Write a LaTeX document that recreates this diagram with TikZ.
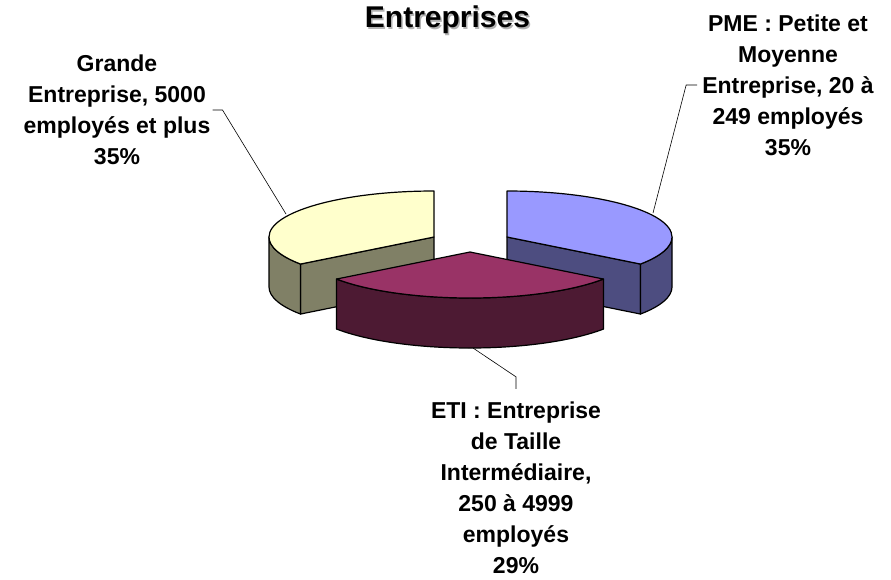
\documentclass[tikz,border=0pt]{standalone}
\usepackage{fontspec}
\setmainfont{Liberation Sans}
\usepackage{tikz}
\tikzset{>=latex}
\usetikzlibrary{calc,positioning}

\definecolor{ytop}{HTML}{FFFFCC}
\definecolor{yside}{HTML}{808066}
\definecolor{ptop}{HTML}{9999FF}
\definecolor{pside}{HTML}{4D4D80}
\definecolor{mtop}{HTML}{993366}
\definecolor{mside}{HTML}{4D1A33}

\tikzset{
  face/.style={draw=black, line width=1.2pt, line join=round},
  ell/.style={x radius=165, y radius=46},
  lab/.style={align=center, inner sep=0pt, font=\bfseries\fontsize{23}{31}\selectfont},
  leader/.style={draw=black, line width=0.6pt}
}

\begin{document}
\begin{tikzpicture}[x=1pt,y=1pt]
                \useasboundingbox[fill=white] (0,0) rectangle (891,-579);

                \node[font=\bfseries\fontsize{30}{36}\selectfont, text=black!30] (tshadow) at (449,-21.5) {Entreprises};
                \node[font=\bfseries\fontsize{30}{36}\selectfont] (title) at (447.5,-20) {Entreprises};

                \coordinate (Y) at (434,-237);
                \coordinate (P) at (507,-237);
                \coordinate (M) at (470,-252);

                \draw[face, fill=yside] (Y) -- ++(0,-50) -- ++(216:165 and 46) -- ++(0,50) -- cycle;
                \draw[face, fill=yside] ($(Y)+(180:165 and 46)$) arc[start angle=180, end angle=216, ell]
                    -- ++(0,-50) arc[start angle=216, end angle=180, ell] -- cycle;
                \draw[face, fill=ytop] (Y) -- ++(90:165 and 46) arc[start angle=90, end angle=216, ell] -- cycle;

                \draw[face, fill=pside] (P) -- ++(0,-50) -- ++(324:165 and 46) -- ++(0,50) -- cycle;
                \draw[face, fill=pside] ($(P)+(-36:165 and 46)$) arc[start angle=-36, end angle=0, ell]
                    -- ++(0,-50) arc[start angle=0, end angle=-36, ell] -- cycle;
                \draw[face, fill=ptop] (P) -- ++(90:165 and 46) arc[start angle=90, end angle=-36, ell] -- cycle;

                \draw[face, fill=mside] ($(M)+(216:165 and 46)$) arc[start angle=216, end angle=324, ell]
                    -- ++(0,-50) arc[start angle=324, end angle=216, ell] -- cycle;
                \draw[face, fill=mtop] (M) -- ++(216:165 and 46) arc[start angle=216, end angle=324, ell] -- cycle;

                \node[lab] (glab) at (117,-110) {Grande\\Entreprise, 5000\\employés et plus\\35\%};
                \node[lab] (plab) at (788,-85) {PME : Petite et\\Moyenne\\Entreprise, 20 à\\249 employés\\35\%};
                \node[lab] (elab) at (516,-488) {ETI : Entreprise\\de Taille\\Intermédiaire,\\250 à 4999\\employés\\29\%};

                \coordinate (gtip) at (286,-214);
                \coordinate (ptip) at (653,-213);
                \coordinate (etip) at (473,-348);

                \draw[leader] (glab.east) ++(2,0) -- ++(10,0) -- (gtip);
                \draw[leader] (plab.west) ++(-5,0) -- ++(-11,0) -- (ptip);
                \draw[leader] (elab.north) ++(0,13) -- ++(0,12) -- (etip);
            \end{tikzpicture}
\end{document}
